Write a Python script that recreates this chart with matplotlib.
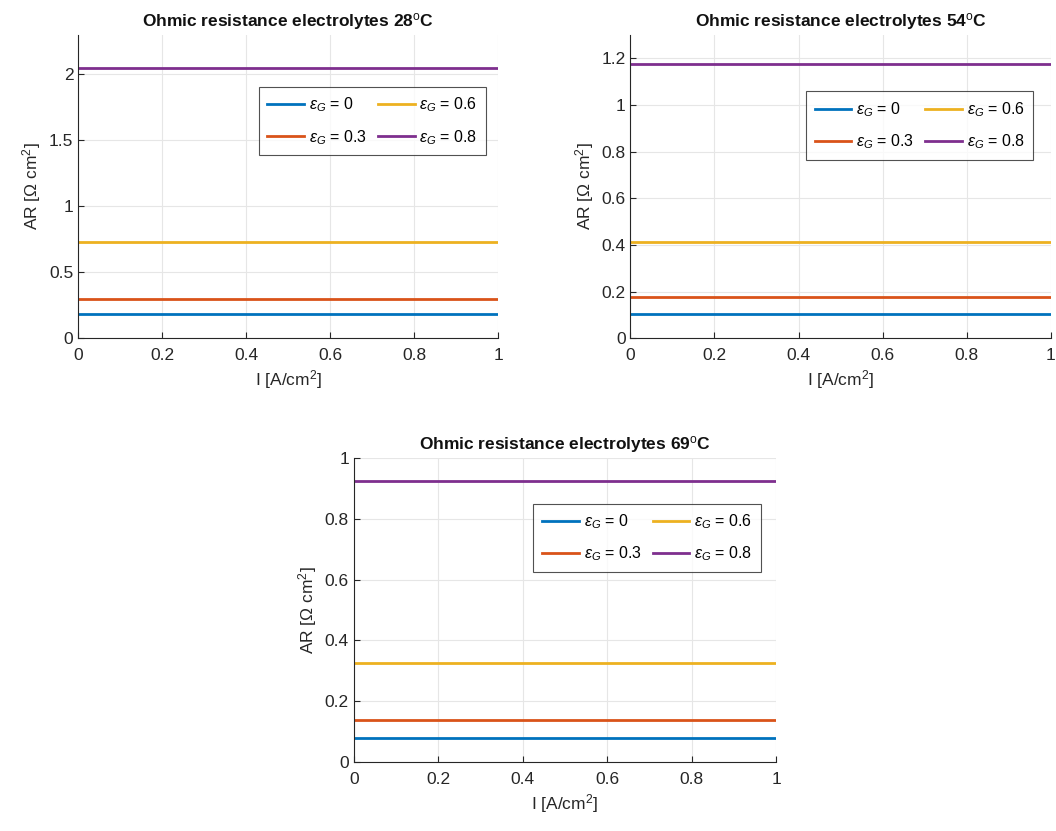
import numpy as np
import matplotlib
matplotlib.use('Agg')
import matplotlib.pyplot as plt

plt.rcParams['font.family'] = ['Liberation Sans', 'DejaVu Sans']
plt.rcParams['mathtext.fontset'] = 'custom'
plt.rcParams['mathtext.rm'] = 'Liberation Sans'
plt.rcParams['mathtext.it'] = 'Liberation Sans:italic'

# current density range
current = [0, 1]
eps_labels = ['0', '0.3', '0.6', '0.8']
colors = ['#0072BD', '#D95319', '#EDB120', '#7E2F8E']

temps = ['28', '54', '69']
# area specific ohmic resistance for eps_G = 0, 0.3, 0.6, 0.8
res_28 = [0.18, 0.30, 0.73, 2.05]
res_54 = [0.103, 0.177, 0.413, 1.174]
res_69 = [0.079, 0.138, 0.326, 0.924]
resistances = [res_28, res_54, res_69]

ylims = [(0, 2.3), (0, 1.3), (0, 1.0)]
yticks = [[0, 0.5, 1, 1.5, 2], [0, 0.2, 0.4, 0.6, 0.8, 1, 1.2], [0, 0.2, 0.4, 0.6, 0.8, 1]]
ytick_labels = [['0', '0.5', '1', '1.5', '2'],
                ['0', '0.2', '0.4', '0.6', '0.8', '1', '1.2'],
                ['0', '0.2', '0.4', '0.6', '0.8', '1']]
xticks = [0, 0.2, 0.4, 0.6, 0.8, 1]
xtick_labels = ['0', '0.2', '0.4', '0.6', '0.8', '1']

fig = plt.figure(figsize=(10.56, 8.31), dpi=100)
positions = [[0.074, 0.593, 0.398, 0.365],
             [0.597, 0.593, 0.398, 0.365],
             [0.335, 0.083, 0.400, 0.366]]
legend_anchor = [(0.99, 0.855), (0.978, 0.84), (0.983, 0.876)]

for k in range(3):
    ax = fig.add_axes(positions[k])
    for j in range(4):
        ax.plot(current, [resistances[k][j]] * 2, color=colors[j], lw=2,
                label=r'$\epsilon_G$ = ' + eps_labels[j])
    ax.set_xlim(0, 1)
    ax.set_ylim(*ylims[k])
    ax.set_xticks(xticks)
    ax.set_xticklabels(xtick_labels)
    ax.set_yticks(yticks[k])
    ax.set_yticklabels(ytick_labels[k])
    ax.grid(True, color='#e6e6e6', lw=0.8)
    ax.set_axisbelow(True)
    ax.tick_params(direction='in', labelsize=12.5, colors='#262626', length=4)
    ax.tick_params(axis='x', pad=7)
    for s in ['top', 'right']:
        ax.spines[s].set_visible(False)
    for s in ['left', 'bottom']:
        ax.spines[s].set_color('#262626')
    ax.set_xlabel(r'I [A/cm$^2$]', fontsize=12.5, color='#262626')
    ax.set_ylabel(r'AR [$\Omega$ cm$^2$]', fontsize=12.5, color='#262626')
    ax.set_title('Ohmic resistance electrolytes ' + temps[k] + r'$^{\rm o}$C',
                 fontsize=12.5, fontweight='bold', color='#111111')
    leg = ax.legend(ncol=2, loc='upper right', bbox_to_anchor=legend_anchor[k],
                    fontsize=11.5, frameon=True, fancybox=False, edgecolor='#262626',
                    handlelength=2.3, columnspacing=0.7, borderpad=0.55,
                    labelspacing=0.85, handletextpad=0.3)
    leg.get_frame().set_linewidth(0.8)

plt.savefig('out.png', dpi=100)
